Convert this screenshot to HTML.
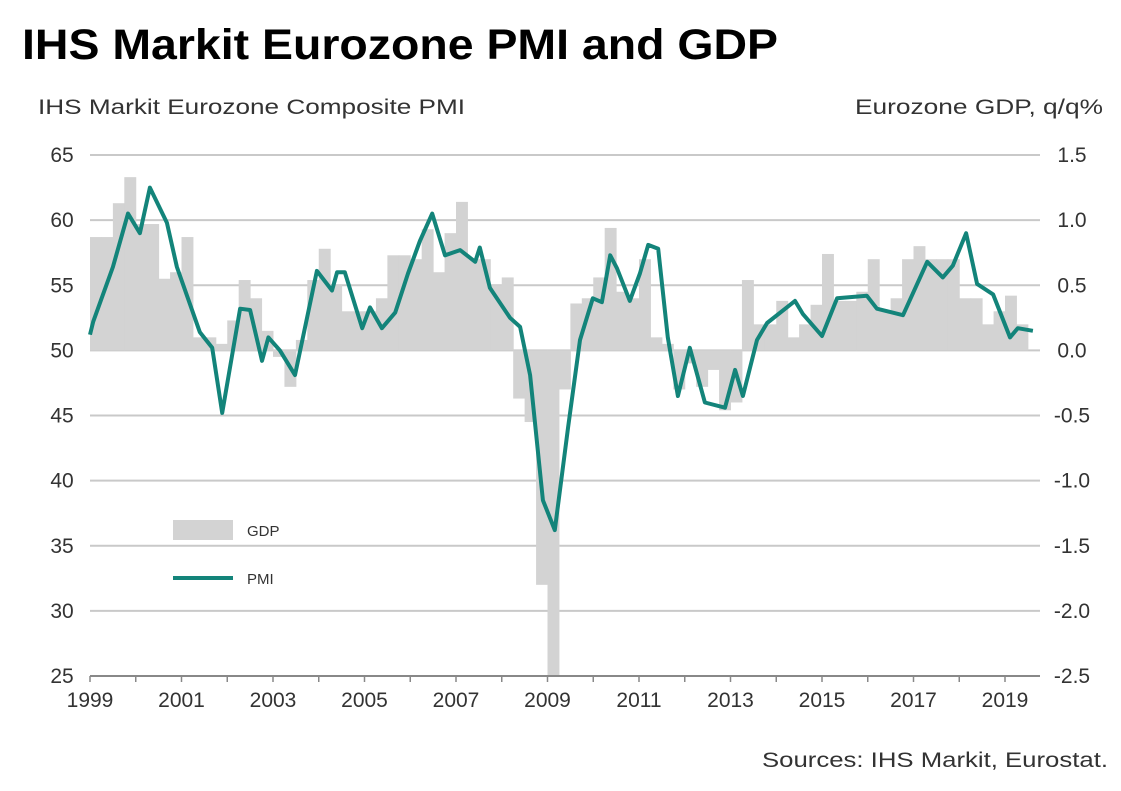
<!DOCTYPE html>
<html><head><meta charset="utf-8"><style>
body{margin:0;background:#fff;font-family:"Liberation Sans",Arial,sans-serif}
svg text{font-family:"Liberation Sans",Arial,sans-serif}
</style></head><body>
<svg id="chart" width="1121" height="786" viewBox="0 0 1121 786" xmlns="http://www.w3.org/2000/svg">
<rect width="1121" height="786" fill="#fff"/>
<text x="22" y="59" font-size="43" font-weight="bold" fill="#000" textLength="756" lengthAdjust="spacingAndGlyphs">IHS Markit Eurozone PMI and GDP</text>
<text x="38" y="114" font-size="21" fill="#333" textLength="427" lengthAdjust="spacingAndGlyphs">IHS Markit Eurozone  Composite PMI</text>
<text x="855" y="114" font-size="21" fill="#333" textLength="248" lengthAdjust="spacingAndGlyphs">Eurozone  GDP, q/q%</text>
<g id="grid"></g><g id="bars"></g><g id="line"></g><g id="axes"></g>
<g>
<rect x="173" y="520" width="60" height="20" fill="#d3d3d3"/>
<text x="247" y="536" font-size="15" fill="#333">GDP</text>
<line x1="173" y1="578" x2="233" y2="578" stroke="#13847a" stroke-width="4"/>
<text x="247" y="584" font-size="15" fill="#333">PMI</text>
</g>
<text x="762" y="767" font-size="21" fill="#333" textLength="346" lengthAdjust="spacingAndGlyphs">Sources: IHS Markit, Eurostat.</text>
</svg>
<script>
const gdp=[0.87,0.87,1.13,1.33, 0.97,0.97,0.55,0.6, 0.87,0.1,0.1,0.05, 0.23,0.54,0.4,0.15, -0.05,-0.28,0.08,0.54, 0.78,0.5,0.3,0.3, 0.3,0.4,0.73,0.73, 0.7,0.93,0.6,0.9, 1.14,0.7,0.7,0.5, 0.56,-0.37,-0.55,-1.8, -2.9,-0.3,0.36,0.4, 0.56,0.94,0.45,0.4, 0.7,0.1,0.05,-0.3, -0.1,-0.28,-0.15,-0.46, -0.4,0.54,0.2,0.2, 0.38,0.1,0.2,0.35, 0.74,0.38,0.38,0.45, 0.7,0.3,0.4,0.7, 0.8,0.7,0.7,0.7, 0.4,0.4,0.2,0.3, 0.42,0.2];
const pmiDates=[1999.0,1999.07,1999.5,1999.83,2000.09,2000.31,2000.68,2000.9,2001.4,2001.67,2001.89,2002.28,2002.5,2002.76,2002.9,2003.15,2003.48,2003.96,2004.29,2004.4,2004.57,2004.95,2005.12,2005.38,2005.67,2005.95,2006.21,2006.48,2006.76,2007.09,2007.42,2007.52,2007.74,2008.18,2008.4,2008.62,2008.9,2009.16,2009.45,2009.71,2009.99,2010.19,2010.37,2010.52,2010.8,2011.02,2011.2,2011.42,2011.63,2011.85,2012.11,2012.44,2012.88,2013.1,2013.27,2013.58,2013.8,2014.23,2014.41,2014.58,2015.0,2015.33,2015.98,2016.2,2016.77,2017.3,2017.64,2017.86,2018.15,2018.39,2018.74,2019.11,2019.28,2019.61];
const pmi=[51.2,52.2,56.4,60.5,59.0,62.5,59.8,56.4,51.4,50.2,45.2,53.2,53.1,49.2,51.0,50.0,48.1,56.1,54.6,56.0,56.0,51.7,53.3,51.7,52.9,55.9,58.4,60.5,57.3,57.7,56.8,57.9,54.8,52.5,51.8,48.1,38.5,36.2,44.1,50.8,54.0,53.7,57.3,56.3,53.8,55.9,58.1,57.8,51.0,46.5,50.2,46.0,45.6,48.5,46.5,50.8,52.1,53.3,53.8,52.8,51.1,54.0,54.2,53.2,52.7,56.8,55.6,56.5,59.0,55.1,54.3,51.0,51.7,51.5];
const leftTicks=[65,60,55,50,45,40,35,30,25];
const rightTicks=["1.5","1.0","0.5","0.0","-0.5","-1.0","-1.5","-2.0","-2.5"];
const xLabels=[1999,2001,2003,2005,2007,2009,2011,2013,2015,2017,2019];
const NS="http://www.w3.org/2000/svg";
const X0=90,X1=1040,YT=155,YB=676;
const x=t=>X0+(t-1999)*45.75;
const yL=v=>YT+(65-v)*(YB-YT)/40;
const yR=v=>YT+(1.5-v)*(YB-YT)/4;
function mk(tag,attrs,parent){const e=document.createElementNS(NS,tag);for(const k in attrs)e.setAttribute(k,attrs[k]);document.getElementById(parent).appendChild(e);return e;}
leftTicks.forEach((v,i)=>{
  if(i<leftTicks.length-1){const g=mk('line',{x1:X0,x2:X1,y1:yL(v),y2:yL(v),stroke:'#c9c9c9','stroke-width':2},'grid');
  
  }
  const t=mk('text',{x:62,y:yL(v)+7,'font-size':21,fill:'#333','text-anchor':'middle'},'axes');t.textContent=v;
  
  
  const r=mk('text',{x:1072,y:yL(v)+7,'font-size':21,fill:'#333','text-anchor':'middle'},'axes');r.textContent=rightTicks[i];
  
  
});
const qw=45.75/4;
gdp.forEach((g,i)=>{
  const x0=x(1999+i/4);const v=Math.max(g,-2.5);
  const top=Math.min(yR(v),yR(0)),h=Math.abs(yR(v)-yR(0));
  const b=mk('rect',{x:x0,y:top,width:qw+0.5,height:h,fill:'#d3d3d3'},'bars');
  
  
});
const pts=pmiDates.map((d,i)=>x(d).toFixed(1)+','+yL(pmi[i]).toFixed(1)).join(' ');
const pl=mk('polyline',{points:pts,fill:'none',stroke:'#13847a','stroke-width':4,'stroke-linejoin':'round'},'line');


const ax=mk('line',{x1:X0,x2:X1,y1:YB,y2:YB,stroke:'#888','stroke-width':2},'axes');


for(let yr=1999;yr<=2019;yr++){const tk=mk('line',{x1:x(yr),x2:x(yr),y1:YB,y2:YB+6,stroke:'#888','stroke-width':1.5},'axes');
  
  }
xLabels.forEach(yr=>{const t=mk('text',{x:x(yr),y:707,'font-size':21,fill:'#333','text-anchor':'middle'},'axes');t.textContent=yr;
  
  });
</script>
</body></html>
